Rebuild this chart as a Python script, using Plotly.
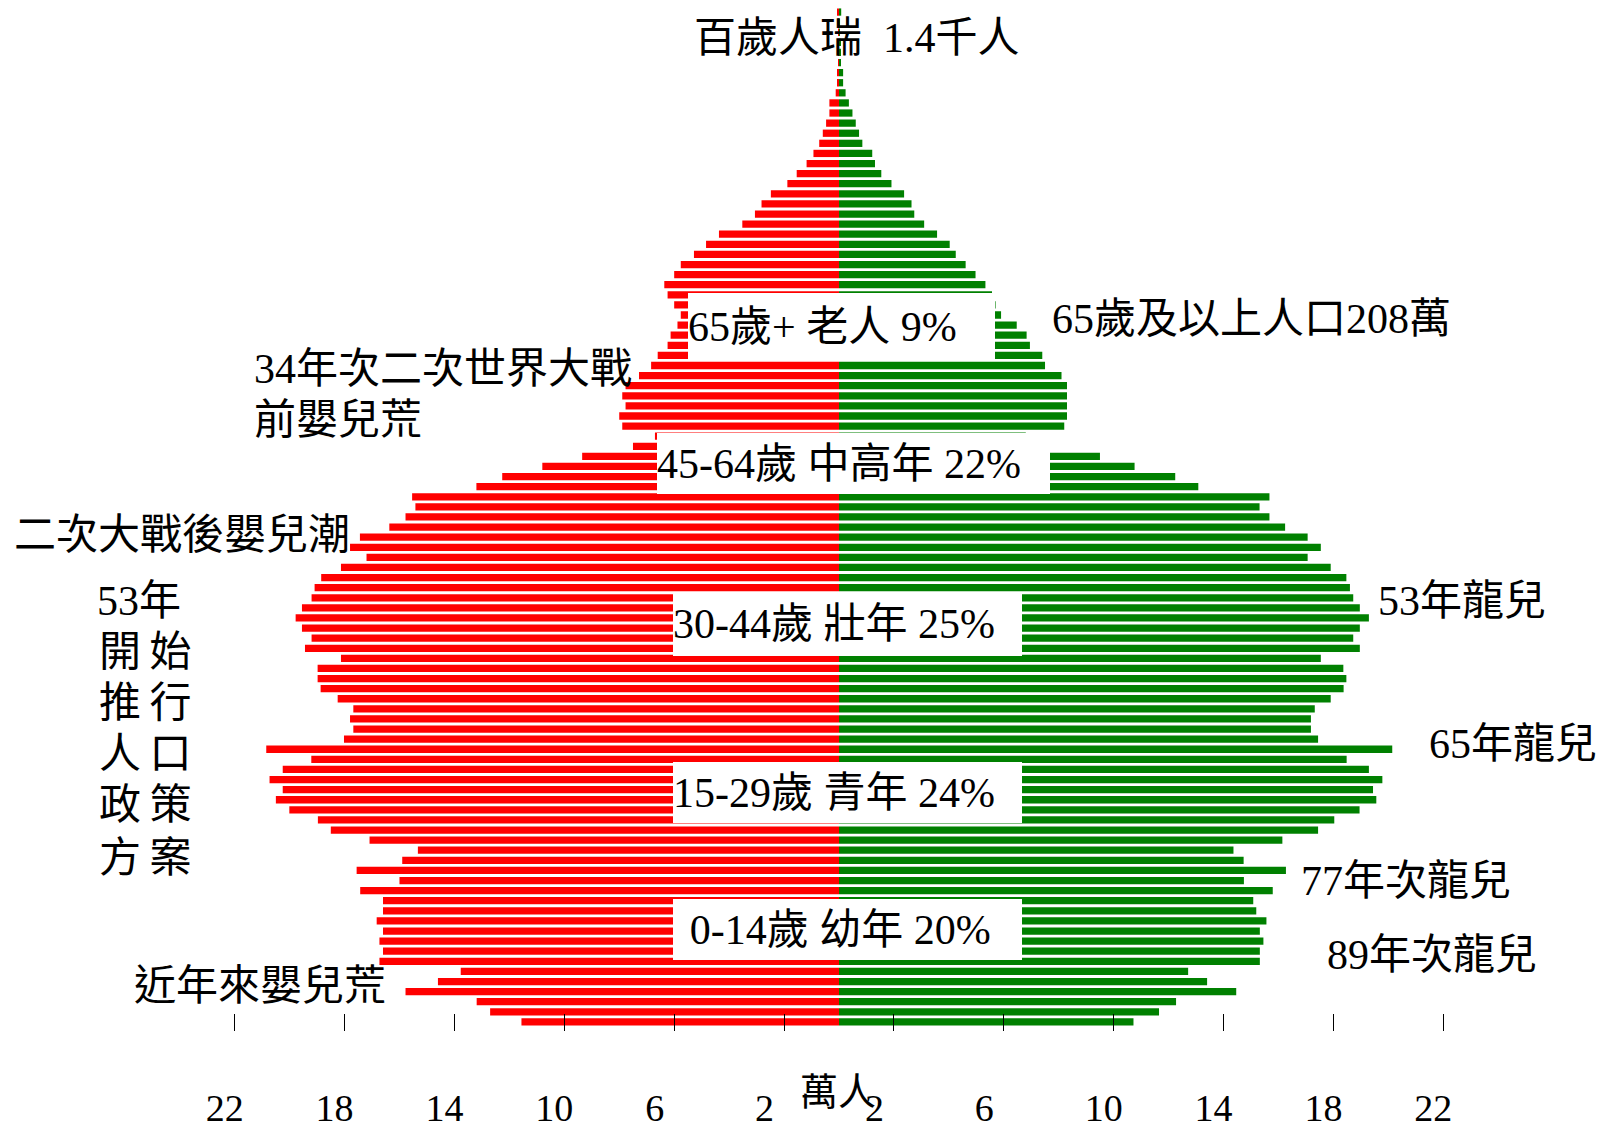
import plotly.graph_objects as go

# ---------------- data (萬人) ----------------
ages = list(range(101))
male = [11.56, 12.7, 13.19, 15.78, 14.6, 13.77, 16.73, 16.6, 16.73, 16.6,
        16.83, 16.6, 16.6, 17.43, 16.0, 17.56, 15.9, 15.33, 17.09, 18.5,
        18.97, 20.01, 20.5, 20.25, 20.73, 20.25, 19.21, 20.85, 18.02, 17.68,
        17.8, 17.68, 18.25, 18.87, 18.98, 18.98, 18.13, 19.44, 19.2, 19.55,
        19.78, 19.55, 19.2, 19.09, 18.85, 18.13, 17.2, 17.8, 17.44, 16.37,
        15.78, 15.42, 15.54, 13.2, 12.26, 10.8, 9.35, 7.5, 6.7, 7.89,
        8.0, 7.77, 7.89, 7.77, 7.28, 6.84, 6.6, 6.24, 6.13, 5.88,
        5.76, 6.0, 6.24, 6.36, 6.0, 5.76, 5.28, 4.84, 4.37, 3.52,
        3.06, 2.82, 2.48, 1.88, 1.54, 1.18, 0.93, 0.72, 0.59, 0.47,
        0.35, 0.35, 0.12, 0.05, 0.04, 0.03, 0.02, 0.02, 0.01, 0.01, 0.06]
female = [10.72, 11.65, 12.27, 14.46, 13.4, 12.71, 15.32, 15.32, 15.45, 15.32,
          15.56, 15.19, 15.08, 15.79, 14.74, 16.27, 14.73, 14.36, 16.14, 17.44,
          18.03, 18.95, 19.56, 19.44, 19.78, 19.29, 18.48, 20.14, 17.44, 17.18,
          17.18, 17.32, 17.9, 18.37, 18.47, 18.36, 17.54, 18.96, 18.72, 18.96,
          19.29, 18.96, 18.72, 18.6, 18.47, 17.9, 17.06, 17.54, 17.06, 16.24,
          15.67, 15.31, 15.67, 13.08, 12.24, 10.76, 9.5, 7.6, 6.8, 8.2,
          8.3, 8.3, 8.3, 8.3, 8.1, 7.5, 7.4, 6.95, 6.83, 6.47,
          5.9, 5.7, 5.57, 5.33, 4.97, 4.61, 4.25, 4.03, 3.57, 3.1,
          2.74, 2.64, 2.37, 1.91, 1.54, 1.31, 1.21, 0.85, 0.73, 0.61,
          0.49, 0.36, 0.24, 0.15, 0.15, 0.06, 0.05, 0.04, 0.03, 0.02, 0.08]

tick_vals = [-22, -18, -14, -10, -6, -2, 2, 6, 10, 14, 18, 22]
tick_labels = ["22", "18", "14", "10", "6", "2", "2", "6", "10", "14", "18", "22"]

# ---------------- geometry ----------------
W, H = 1598, 1132
M_T, M_B = 7, 101
PLOT_H = H - M_T - M_B
CENTER_PX, PX_PER_UNIT = 839, 27.47
X_RANGE = [-CENTER_PX / PX_PER_UNIT, (W - CENTER_PX) / PX_PER_UNIT]

FONT = "Liberation Serif, 'Noto Sans CJK TC', serif"


def paper(xp, yp):
    return xp / W, (H - M_B - yp) / PLOT_H


fig = go.Figure()
fig.add_trace(go.Bar(y=ages, x=[-v for v in male], orientation="h",
                     marker=dict(color="#FF0000", line=dict(width=0)),
                     name="男", hoverinfo="skip"))
fig.add_trace(go.Bar(y=ages, x=female, orientation="h",
                     marker=dict(color="#008000", line=dict(width=0)),
                     name="女", hoverinfo="skip"))

# pad single-digit labels so they sit left of their tick like the original
ticktext = [t + "\u2002" if len(t) == 1 else t for t in tick_labels]

annotations = []

# free-standing labels: (text, left_px, center_y_px)
labels = [
    ("百歲人瑞\u00a0\u00a01.4千人", 692, 38),
    ("65歲及以上人口208萬", 1050, 319),
    ("34年次二次世界大戰", 252, 369),
    ("前嬰兒荒", 252, 420),
    ("二次大戰後嬰兒潮", 12, 535),
    ("53年", 95, 601),
    ("開\u2009始", 97, 652),
    ("推\u2009行", 97, 703),
    ("人\u2009口", 97, 754),
    ("政\u2009策", 97, 805),
    ("方\u2009案", 97, 858),
    ("53年龍兒", 1376, 601),
    ("65年龍兒", 1427, 744),
    ("77年次龍兒", 1299, 881),
    ("89年次龍兒", 1325, 955),
    ("近年來嬰兒荒", 132, 986),
]
for text, xl, yc in labels:
    px_, py_ = paper(xl, yc)
    annotations.append(dict(text=text, x=px_, y=py_, xref="paper", yref="paper",
                            xanchor="left", yanchor="middle", showarrow=False,
                            font=dict(family=FONT, size=42, color="black")))

# white label boxes: (text, left_px, right_px, top_px, bottom_px)
boxes = [
    ("65歲+\u00a0老人\u00a09%", 688, 995, 293, 361),
    ("45-64歲\u00a0中高年\u00a022%", 657, 1050, 433, 494),
    ("30-44歲\u00a0壯年\u00a025%", 673, 1022, 592, 656),
    ("15-29歲\u00a0青年\u00a024%", 673, 1022, 762, 823),
    ("\u2009\u20090-14歲\u00a0幼年\u00a020%", 673, 1022, 899, 960),
]
for text, xl, xr, yt, yb in boxes:
    px_, py_ = paper(xl, (yt + yb) / 2)
    annotations.append(dict(text=text, x=px_, y=py_, xref="paper", yref="paper",
                            xanchor="left", yanchor="middle", showarrow=False,
                            width=xr - xl, height=yb - yt, align="left",
                            bgcolor="white", borderpad=0, borderwidth=0,
                            font=dict(family=FONT, size=42, color="black")))

# unit label
px_, py_ = paper(838, 1092)
annotations.append(dict(text="萬人", x=px_, y=py_, xref="paper", yref="paper",
                        xanchor="center", yanchor="middle", showarrow=False,
                        font=dict(family=FONT, size=38, color="black")))

fig.update_layout(
    width=W, height=H,
    margin=dict(l=0, r=0, t=M_T, b=M_B, pad=0),
    paper_bgcolor="white", plot_bgcolor="white",
    barmode="relative", bargap=0.28,
    showlegend=False,
    annotations=annotations,
    xaxis=dict(range=X_RANGE, tickvals=tick_vals, ticktext=ticktext,
               ticks="inside", ticklen=17, tickwidth=1, tickcolor="black",
               showgrid=False, showline=False,
               zeroline=True, zerolinecolor="white", zerolinewidth=3,
               layer="above traces", automargin=False,
               ticklabelstandoff=51, ticklabelshift=-10,
               tickfont=dict(family=FONT, size=38, color="black"),
               fixedrange=True),
    yaxis=dict(range=[-0.9, 100.5], visible=False, showgrid=False,
               zeroline=False, fixedrange=True),
)

fig.write_html("out.html", config={"displayModeBar": False},
               post_script="document.body.style.margin='0';")
